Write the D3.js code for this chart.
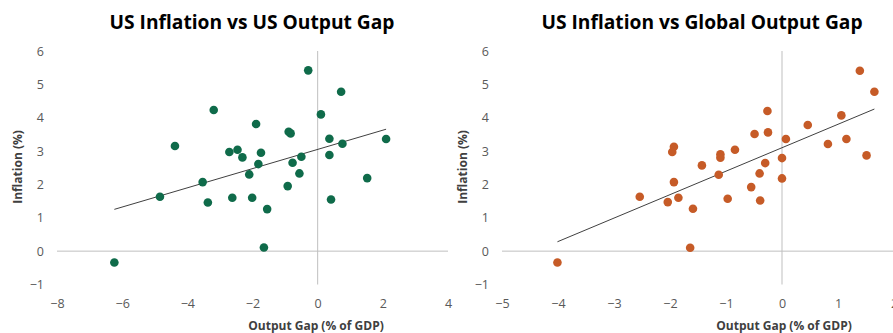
<!DOCTYPE html>
<html>
<head>
<meta charset="utf-8">
<script src="https://cdn.jsdelivr.net/npm/d3@7"></script>
<style>
  html, body { margin: 0; padding: 0; background: #fff; }
  svg { display: block; }
  text { font-family: "Open Sans", "Noto Sans", sans-serif; }
</style>
</head>
<body>
<svg id="chart" width="893" height="333"></svg>
<script>
// ---- Data ----
const usGap = [-6.24, -4.84, -4.38, -3.19, -3.53, -3.37, -2.71, -2.46, -2.31, -2.62, -2.10, -2.01, -1.89, -1.74, -1.82, -1.55, -1.65, -0.89, -0.83, -0.77, -0.50, -0.92, -0.56, -0.29, 0.10, 0.36, 0.36, 0.41, 0.72, 0.76, 1.52, 2.10];
const usInflation = [-0.34, 1.63, 3.15, 4.23, 2.07, 1.46, 2.97, 3.04, 2.81, 1.60, 2.30, 1.60, 3.81, 2.95, 2.61, 1.26, 0.11, 3.58, 3.53, 2.65, 2.83, 1.95, 2.33, 5.42, 4.10, 3.37, 2.88, 1.55, 4.78, 3.22, 2.19, 3.36];

const globalGap = [-4.01, -2.54, -2.04, -1.96, -1.93, -1.93, -1.85, -1.59, -1.64, -1.43, -1.10, -1.10, -1.13, -0.97, -0.84, -0.55, -0.49, -0.40, -0.39, -0.30, -0.26, -0.25, 0.00, 0.00, 0.07, 0.46, 0.82, 1.06, 1.15, 1.39, 1.51, 1.65];
const globalInflation = [-0.34, 1.63, 1.47, 2.97, 3.13, 2.07, 1.60, 1.27, 0.10, 2.57, 2.90, 2.80, 2.29, 1.57, 3.04, 1.92, 3.51, 2.33, 1.52, 2.64, 4.20, 3.56, 2.79, 2.18, 3.36, 3.78, 3.21, 4.07, 3.36, 5.41, 2.87, 4.78];

// linear trend lines [slope, intercept]
const usTrend = [0.288, 3.05];
const globalTrend = [0.703, 3.10];

const usXTicks = [-8, -6, -4, -2, 0, 2, 4];
const globalXTicks = [-5, -4, -3, -2, -1, 0, 1, 2];
const yTicks = [-1, 0, 1, 2, 3, 4, 5, 6];

const titles = ["US Inflation vs US Output Gap", "US Inflation vs Global Output Gap"];
const xTitle = "Output Gap (% of GDP)";
const yTitle = "Inflation (%)";

// ---- Drawing ----
const svg = d3.select("#chart");

function panel(cfg) {
  const g = svg.append("g");
  const x = d3.scaleLinear().domain(cfg.xDomain).range(cfg.xRange);
  const y = d3.scaleLinear().domain([-1, 6]).range([284.5, 51]);

  // title
  g.append("text")
    .attr("x", cfg.titleX).attr("y", 28.5)
    .attr("text-anchor", "middle")
    .attr("font-size", 19.2).attr("font-weight", 700)
    .attr("fill", "#000")
    .text(cfg.title);

  // zero lines
  g.append("line")
    .attr("x1", x(cfg.xDomain[0])).attr("x2", x(cfg.xDomain[1]))
    .attr("y1", y(0)).attr("y2", y(0))
    .attr("stroke", "#bfbfbf").attr("stroke-width", 1);
  g.append("line")
    .attr("x1", x(0)).attr("x2", x(0))
    .attr("y1", y(6)).attr("y2", y(-1))
    .attr("stroke", "#bfbfbf").attr("stroke-width", 1);

  // y axis labels
  const ya = g.append("g")
    .attr("transform", `translate(${cfg.yAxisX},0)`)
    .call(d3.axisLeft(y).tickValues(yTicks).tickSize(0).tickPadding(0).tickFormat(d3.format("d")));
  ya.select(".domain").remove();
  ya.selectAll("text").attr("font-size", 12.5).attr("fill", "#595959")
    .style("font-family", '"Open Sans", sans-serif');

  // x axis labels
  const xa = g.append("g")
    .attr("transform", `translate(0,299)`)
    .call(d3.axisBottom(x).tickValues(cfg.xTicks).tickSize(0).tickPadding(0).tickFormat(d3.format("d")));
  xa.select(".domain").remove();
  xa.selectAll("text").attr("font-size", 12.5).attr("fill", "#595959")
    .style("font-family", '"Open Sans", sans-serif');

  // axis titles
  g.append("text")
    .attr("x", cfg.xTitleX).attr("y", 329.5)
    .attr("text-anchor", "middle")
    .attr("font-size", 12).attr("font-weight", 700).attr("fill", "#404040")
    .text(xTitle);
  g.append("text")
    .attr("transform", `translate(${cfg.yTitleX},167) rotate(-90)`)
    .attr("text-anchor", "middle")
    .attr("font-size", 12).attr("font-weight", 700).attr("fill", "#404040")
    .text(yTitle);

  // trend line
  const xs = d3.extent(cfg.gx);
  g.append("line")
    .attr("x1", x(xs[0])).attr("y1", y(cfg.trend[0] * xs[0] + cfg.trend[1]))
    .attr("x2", x(xs[1])).attr("y2", y(cfg.trend[0] * xs[1] + cfg.trend[1]))
    .attr("stroke", "#404040").attr("stroke-width", 1);

  // points
  g.selectAll("circle.pt")
    .data(cfg.gx.map((v, i) => [v, cfg.gy[i]]))
    .join("circle")
    .attr("class", "pt")
    .attr("cx", d => x(d[0])).attr("cy", d => y(d[1]))
    .attr("r", 4.3)
    .attr("fill", cfg.color);
}

panel({
  title: titles[0], titleX: 252,
  xDomain: [-8, 4], xRange: [57, 448], xTicks: usXTicks,
  yAxisX: 44, xTitleX: 316, yTitleX: 22,
  gx: usGap, gy: usInflation, trend: usTrend, color: "#0f6b4a"
});

panel({
  title: titles[1], titleX: 702,
  xDomain: [-5, 2], xRange: [502, 894], xTicks: globalXTicks,
  yAxisX: 489, xTitleX: 784, yTitleX: 467,
  gx: globalGap, gy: globalInflation, trend: globalTrend, color: "#c65b27"
});
</script>
</body>
</html>
